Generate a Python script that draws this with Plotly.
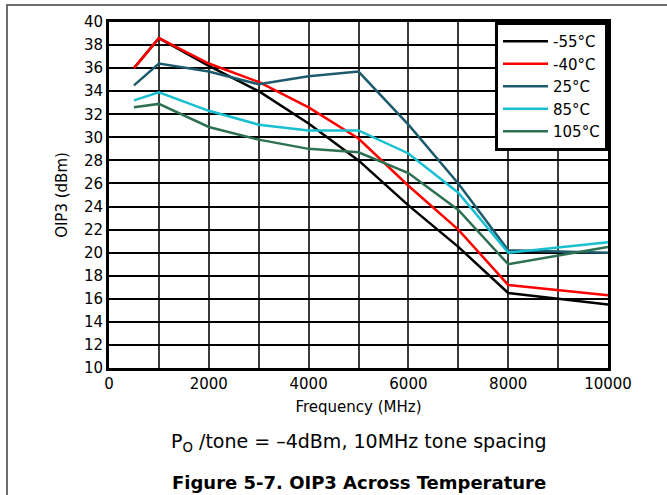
import plotly.graph_objects as go

freq = [500, 1000, 2000, 3000, 4000, 5000, 6000, 7000, 8000, 10000]
labels = ["-55°C", "-40°C", "25°C", "85°C", "105°C"]
oip3_m55 = [36.0, 38.6, 36.2, 34.0, 31.2, 28.0, 24.1, 20.5, 16.5, 15.5]
oip3_m40 = [36.0, 38.6, 36.4, 34.8, 32.6, 29.9, 25.8, 22.0, 17.2, 16.3]
oip3_25 = [34.5, 36.4, 35.7, 34.6, 35.3, 35.7, 31.1, 26.0, 20.2, 20.0]
oip3_85 = [33.2, 33.9, 32.3, 31.1, 30.6, 30.6, 28.6, 25.2, 20.0, 20.9]
oip3_105 = [32.6, 32.9, 30.9, 29.8, 29.0, 28.7, 26.9, 23.7, 19.0, 20.5]
colors = ["#000000", "#ff0000", "#1d5b6c", "#17bfd1", "#2e7152"]
series = [oip3_m55, oip3_m40, oip3_25, oip3_85, oip3_105]

x_ticks = [0, 2000, 4000, 6000, 8000, 10000]
x_ticktext = ["0", "2000", "4000", "6000", "8000", "10000"]
y_ticks = list(range(10, 41, 2))

FONT = "DejaVu Sans, Liberation Sans, Arial, sans-serif"

fig = go.Figure()
for name, ys, c in zip(labels, series, colors):
    fig.add_trace(go.Scatter(x=freq, y=ys, mode="lines", name=name,
                             line=dict(color=c, width=2.5)))

fig.update_layout(
    width=667, height=495,
    margin=dict(l=109, r=59, t=22, b=127),
    paper_bgcolor="white", plot_bgcolor="white",
    font=dict(family=FONT, size=15, color="black"),
    showlegend=True,
    legend=dict(x=1, y=1, xanchor="right", yanchor="top",
                bgcolor="white", bordercolor="black", borderwidth=3,
                font=dict(size=15), itemwidth=45, tracegroupgap=0),
    xaxis=dict(range=[0, 10000], tickvals=x_ticks, ticktext=x_ticktext,
               showgrid=True, gridcolor="#3a3a3a", gridwidth=1.5,
               minor=dict(dtick=1000, showgrid=True, gridcolor="#3a3a3a", gridwidth=1.5),
               showline=True, linecolor="black", linewidth=3, mirror=True,
               ticks="", zeroline=False,
               title=dict(text="Frequency (MHz)", font=dict(size=15), standoff=10),
               tickfont=dict(size=15)),
    yaxis=dict(range=[10, 40], tickvals=y_ticks,
               showgrid=True, gridcolor="black", gridwidth=1.5,
               showline=True, linecolor="black", linewidth=3, mirror=True,
               ticks="", zeroline=False,
               title=dict(text="OIP3 (dBm)", font=dict(size=15), standoff=13),
               tickfont=dict(size=15)),
)

fig.add_shape(type="rect", xref="paper", yref="paper",
              x0=(7 - 109) / 499, x1=(672 - 109) / 499,
              y0=(368 - 505) / 346, y1=1 + (22 - 5) / 346,
              line=dict(color="#6e6e6e", width=2), layer="below")

fig.add_annotation(text="P<sub>O</sub> /tone = –4dBm, 10MHz tone spacing",
                   xref="paper", yref="paper", x=0.5, y=(368 - 442) / 346,
                   xanchor="center", yanchor="middle", showarrow=False,
                   font=dict(size=19, family=FONT))
fig.add_annotation(text="<b>Figure 5-7. OIP3 Across Temperature</b>",
                   xref="paper", yref="paper", x=0.5, y=(368 - 482) / 346,
                   xanchor="center", yanchor="middle", showarrow=False,
                   font=dict(size=18, family=FONT))

fig.write_html("out.html", post_script="document.body.style.margin='0';",
               config={"displayModeBar": False})
